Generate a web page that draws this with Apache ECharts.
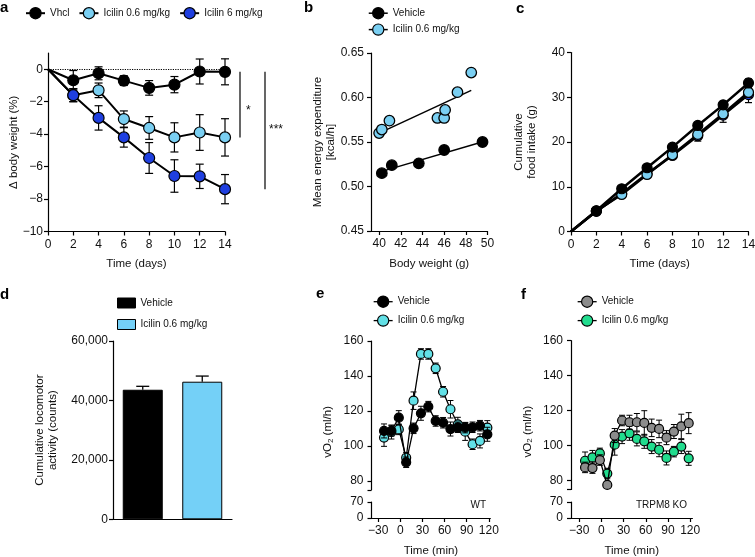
<!DOCTYPE html>
<html><head><meta charset="utf-8">
<script src="https://cdn.jsdelivr.net/npm/echarts@6/dist/echarts.min.js"></script>
<style>html,body{margin:0;padding:0;background:#fff}#c{width:755px;height:557px}</style>
</head><body><div id="c"></div>
<script>
// ---------- Panel a: body weight change ----------
const daysA = [0, 2, 4, 6, 8, 10, 12, 14];
const vhclA = [0, -0.68, -0.25, -0.7, -1.15, -0.95, -0.14, -0.16];
const vhclAErr = [0, 0.6, 0.4, 0.3, 0.45, 0.5, 0.77, 0.8];
const ici06A = [0, -1.6, -1.3, -3.07, -3.62, -4.2, -3.9, -4.2];
const ici06AErr = [0, 0.4, 0.45, 0.5, 0.7, 0.9, 1.1, 1.15];
const ici6A = [0, -1.6, -3.0, -4.2, -5.47, -6.58, -6.6, -7.39];
const ici6AErr = [0, 0.4, 0.75, 0.6, 0.95, 1.0, 0.75, 0.9];
const ticksAY = [-10, -8, -6, -4, -2, 0];
const sigLabels = ['*', '***'];

// ---------- Panel b: energy expenditure vs body weight ----------
const vehBW = [40.25, 41.17, 43.66, 46.0, 49.54];
const vehEE = [0.515, 0.524, 0.526, 0.541, 0.550];
const iciBW = [40.0, 40.25, 40.95, 45.38, 46.0, 46.09, 47.23, 48.5];
const iciEE = [0.560, 0.564, 0.574, 0.577, 0.577, 0.586, 0.606, 0.628];
const vehFitX = [40.25, 49.5], vehFitY = [0.517, 0.550];
const iciFitX = [40.0, 48.5], iciFitY = [0.560, 0.608];
const ticksBX = [40, 42, 44, 46, 48, 50];
const ticksBY = [0.45, 0.50, 0.55, 0.60, 0.65];

// ---------- Panel c: cumulative food intake ----------
const daysC = [0, 2, 4, 6, 8, 10, 12, 14];
const vehC = [0, 4.63, 9.55, 14.25, 18.86, 23.7, 28.3, 33.2];
const vehCErr = [0, 0.3, 0.4, 0.5, 0.6, 0.7, 0.8, 0.9];
const ici06C = [0, 4.6, 8.28, 12.75, 17.15, 21.7, 26.3, 31.1];
const ici06CErr = [0, 0.3, 0.5, 0.6, 0.7, 0.9, 1.0, 1.1];
const ici6C = [0, 4.5, 8.5, 12.9, 17.0, 21.4, 26.0, 30.6];
const ici6CErr = [0, 0.3, 0.5, 0.6, 0.8, 1.2, 1.6, 1.8];

// ---------- Panel d: locomotor activity ----------
const locoCats = ['Vehicle', 'Icilin 0.6 mg/kg'];
const locoVals = [43600, 46300];
const locoErr = [1150, 1900];

// ---------- Panel e: vO2 WT ----------
const timeE = [-22, -12, -2, 8, 18, 28, 38, 48, 58, 68, 78, 88, 98, 108, 118];
const vehE = [108.6, 108.6, 116.2, 90.7, 110.1, 118.7, 122.5, 114.3, 113.3, 109.7, 110.7, 110.5, 110.7, 111.6, 106.7];
const vehEErr = [4, 3, 4, 3, 3, 4, 3, 3, 3, 4, 3, 3, 3, 3, 4];
const iciE = [104.8, 108.0, 109.5, 93.3, 125.9, 152.6, 152.6, 144.4, 131.0, 121.0, 112.4, 108.2, 101.0, 102.9, 110.5];
const iciEErr = [5, 4, 3, 3, 5, 3, 3, 3, 3, 5, 4, 5, 3, 4, 4];

// ---------- Panel f: vO2 TRPM8 KO ----------
const timeF = [-22, -12, -2, 8, 18, 28, 38, 48, 58, 68, 78, 88, 98, 108, 118];
const vehF = [87.6, 87.2, 91.8, 77.6, 105.8, 114.4, 113.4, 113.4, 113.0, 110.2, 109.6, 104.6, 108.1, 111.0, 112.9];
const vehFErr = [3, 3, 3, 2, 4, 3, 4, 5, 7, 5, 5, 4, 4, 7, 6];
const iciF = [91.4, 93.3, 95.6, 84.1, 100.6, 105.2, 107.1, 103.9, 102.5, 99.5, 97.7, 93.0, 96.6, 99.5, 92.8];
const iciFErr = [5, 4, 3, 3, 6, 4, 4, 4, 4, 4, 4, 4, 3, 4, 4];

const ticksTime = [-30, 0, 30, 60, 90, 120];
const ticksVO2 = [80, 100, 120, 140, 160];
const ticksVO2Break = [75, 80, 100, 120, 140, 160];
const ticksLow = [0, 70];

// ---------- styling ----------
const FONT = "'Liberation Sans', Arial, Helvetica, sans-serif";
const TXT = '#111';
const LBLUE = '#7acff2', DBLUE = '#1f3fe0', CYAN = '#62e0e6', GREEN = '#22dc8e', GRAY = '#8c8c8c', BARBLUE = '#74d0f7';
const minus = v => String(v).replace('-', '\u2212');
const legendName = n => n.split('|')[0];

function axisBase(extra) {
  const base = {
    splitLine: { show: false },
    axisLine: { show: true, onZero: false, lineStyle: { color: '#000', width: 1.2 } },
    axisTick: { show: true, length: 4, lineStyle: { color: '#000', width: 1.2 } },
    axisLabel: { color: TXT, fontFamily: FONT, fontSize: 12 },
    nameLocation: 'middle',
    nameMoveOverlap: false,
    nameTextStyle: { color: TXT, fontFamily: FONT, fontSize: 11.5, lineHeight: 13 }
  };
  for (const k in extra) {
    if (typeof extra[k] === 'object' && !Array.isArray(extra[k]) && base[k]) base[k] = Object.assign({}, base[k], extra[k]);
    else base[k] = extra[k];
  }
  return base;
}

function errRender(cap, lw, upOnly) {
  return function (params, api) {
    const x = api.value(0), y = api.value(1), e = api.value(2);
    if (!e) return null;
    const c = api.coord([x, y]);
    const t = api.coord([x, y + e]);
    const st = { stroke: '#000', lineWidth: lw };
    const ch = [
      { type: 'line', shape: { x1: c[0], y1: c[1], x2: t[0], y2: t[1] }, style: st },
      { type: 'line', shape: { x1: t[0] - cap / 2, y1: t[1], x2: t[0] + cap / 2, y2: t[1] }, style: st }
    ];
    if (!upOnly) {
      const b = api.coord([x, y - e]);
      ch.push({ type: 'line', shape: { x1: c[0], y1: c[1], x2: b[0], y2: b[1] }, style: st });
      ch.push({ type: 'line', shape: { x1: b[0] - cap / 2, y1: b[1], x2: b[0] + cap / 2, y2: b[1] }, style: st });
    }
    return { type: 'group', children: ch };
  };
}
function errSeries(ai, xs, ys, es, cap, lw, z, upOnly) {
  return {
    type: 'custom', xAxisIndex: ai, yAxisIndex: ai, silent: true, clip: false, z: z,
    data: xs.map((x, i) => [x, ys[i], es[i]]),
    encode: { x: 0, y: 1 },
    renderItem: errRender(cap, lw, upOnly)
  };
}
function lineSeries(name, ai, xs, ys, fill, size, lw, z, originNoSymbol) {
  return {
    type: 'line', name: name, xAxisIndex: ai, yAxisIndex: ai, z: z,
    symbol: 'circle', symbolSize: size, showSymbol: true, showAllSymbol: true,
    data: xs.map((x, i) => (originNoSymbol && i === 0) ? { value: [x, ys[i]], symbol: 'none' } : [x, ys[i]]),
    lineStyle: { color: '#000', width: lw },
    itemStyle: { color: fill, borderColor: '#000', borderWidth: 1.2 },
    emphasis: { disabled: true }
  };
}

const grids = [
  { left: 48, top: 53, width: 177, height: 178.5 },       // a
  { left: 371, top: 53, width: 116.5, height: 178 },      // b
  { left: 571, top: 52.5, width: 177.5, height: 179 },    // c
  { left: 113, top: 341, width: 119, height: 178.3 },     // d
  { left: 371.5, top: 341, width: 118.8, height: 148.75 },// e upper
  { left: 371.5, top: 502, width: 118.8, height: 16 },    // e lower
  { left: 571, top: 340.7, width: 121.4, height: 148.75 },// f upper
  { left: 571, top: 502, width: 121.4, height: 16 }       // f lower
].map(g => Object.assign({ outerBoundsMode: 'none', containLabel: false }, g));

const xAxes = [
  axisBase({ type: 'value', gridIndex: 0, min: 0, max: 14, interval: 2, name: 'Time (days)', nameGap: 26, axisLabel: { margin: 7 } }),
  axisBase({ type: 'value', gridIndex: 1, min: 39.25, max: 50, name: 'Body weight (g)', nameGap: 26,
    axisTick: { customValues: ticksBX }, axisLabel: { customValues: ticksBX, margin: 7 } }),
  axisBase({ type: 'value', gridIndex: 2, min: 0, max: 14, interval: 2, name: 'Time (days)', nameGap: 26, axisLabel: { margin: 7 } }),
  axisBase({ type: 'category', gridIndex: 3, data: locoCats, axisTick: { show: false }, axisLabel: { show: false } }),
  axisBase({ type: 'value', gridIndex: 4, min: -39, max: 122, show: false }),
  axisBase({ type: 'value', gridIndex: 5, min: -39, max: 122, name: 'Time (min)', nameGap: 26,
    axisTick: { customValues: ticksTime }, axisLabel: { customValues: ticksTime, margin: 7, formatter: minus } }),
  axisBase({ type: 'value', gridIndex: 6, min: -41, max: 123, show: false }),
  axisBase({ type: 'value', gridIndex: 7, min: -41, max: 123, name: 'Time (min)', nameGap: 26,
    axisTick: { customValues: ticksTime }, axisLabel: { customValues: ticksTime, margin: 7, formatter: minus } })
];

const vo2Name = 'vO{sub|2} (ml/h)';
const vo2NameStyle = { color: TXT, fontFamily: FONT, fontSize: 11.5, lineHeight: 13, padding: [0, 33, 0, 0],
  rich: { sub: { fontSize: 8, verticalAlign: 'bottom', fontFamily: FONT, color: TXT, lineHeight: 13, padding: [6, 0, 0, 0] } } };

const yAxes = [
  axisBase({ type: 'value', gridIndex: 0, min: -10, max: 1, name: '\u0394 body weight (%)', nameGap: 28,
    axisTick: { customValues: ticksAY }, axisLabel: { customValues: ticksAY, margin: 5, formatter: minus } }),
  axisBase({ type: 'value', gridIndex: 1, min: 0.45, max: 0.65, name: 'Mean energy expenditure\n[kcal/h]', nameGap: 34,
    axisTick: { customValues: ticksBY }, axisLabel: { customValues: ticksBY, margin: 7, formatter: v => v.toFixed(2) } }),
  axisBase({ type: 'value', gridIndex: 2, min: 0, max: 40, interval: 10, name: 'Cumulative\nfood intake (g)', nameGap: 33, axisLabel: { margin: 6 } }),
  axisBase({ type: 'value', gridIndex: 3, min: 0, max: 60000, interval: 20000, name: 'Cumulative locomotor\nactivity (counts)', nameGap: 54,
    axisLabel: { margin: 5, formatter: v => v.toLocaleString('en-US') } }),
  axisBase({ type: 'value', gridIndex: 4, min: 75, max: 160, name: vo2Name, nameGap: 37, nameTextStyle: vo2NameStyle,
    axisTick: { customValues: ticksVO2Break }, axisLabel: { customValues: ticksVO2, margin: 8 } }),
  axisBase({ type: 'value', gridIndex: 5, min: 0, max: 70,
    axisTick: { customValues: ticksLow }, axisLabel: { customValues: ticksLow, margin: 8 } }),
  axisBase({ type: 'value', gridIndex: 6, min: 75, max: 160, name: vo2Name, nameGap: 37, nameTextStyle: vo2NameStyle,
    axisTick: { customValues: ticksVO2Break }, axisLabel: { customValues: ticksVO2, margin: 8 } }),
  axisBase({ type: 'value', gridIndex: 7, min: 0, max: 70,
    axisTick: { customValues: ticksLow }, axisLabel: { customValues: ticksLow, margin: 8 } })
];

const series = [];
// ---- a ----
series.push(errSeries(0, daysA, vhclA, vhclAErr, 8, 1.2, 2));
const vA = lineSeries('Vhcl', 0, daysA, vhclA, '#000', 11, 2, 3, true);
vA.markLine = { silent: true, symbol: 'none', label: { show: false }, lineStyle: { type: 'dotted', color: '#000', width: 1.2 }, data: [{ yAxis: 0 }] };
series.push(vA);
series.push(errSeries(0, daysA, ici06A, ici06AErr, 8, 1.2, 4));
series.push(lineSeries('Icilin 0.6 mg/kg', 0, daysA, ici06A, LBLUE, 11, 2, 5, true));
series.push(errSeries(0, daysA, ici6A, ici6AErr, 8, 1.2, 6));
series.push(lineSeries('Icilin 6 mg/kg', 0, daysA, ici6A, DBLUE, 11, 2, 7, true));
const lastA = daysA.length - 1;
series.push({
  type: 'custom', xAxisIndex: 0, yAxisIndex: 0, silent: true, clip: false, z: 10,
  data: [[daysA[lastA], vhclA[lastA], ici06A[lastA]], [daysA[lastA], vhclA[lastA], ici6A[lastA]]],
  encode: { x: 0, y: 1 },
  renderItem: function (params, api) {
    const x = api.value(0), y1 = api.value(1), y2 = api.value(2);
    const p1 = api.coord([x, y1]), p2 = api.coord([x, y2]);
    const i = params.dataIndex;
    const lx = p1[0] + (i === 0 ? 15 : 40);
    return { type: 'group', children: [
      { type: 'line', shape: { x1: lx, y1: p1[1], x2: lx, y2: p2[1] }, style: { stroke: '#000', lineWidth: 1.2 } },
      { type: 'text', style: { text: sigLabels[i], x: lx + (i === 0 ? 6 : 4), y: (p1[1] + p2[1]) / 2 + (i === 0 ? 6 : -1), align: 'left', verticalAlign: 'middle', fill: TXT, font: '12px ' + FONT } }
    ] };
  }
});
// ---- b ----
series.push({ type: 'line', name: 'Vehicle|b', xAxisIndex: 1, yAxisIndex: 1, z: 2, symbol: 'none',
  data: vehFitX.map((x, i) => [x, vehFitY[i]]), lineStyle: { color: '#000', width: 1.5 },
  itemStyle: { color: '#000', borderColor: '#000', borderWidth: 1.2 }, emphasis: { disabled: true } });
series.push({ type: 'line', name: 'Icilin 0.6 mg/kg|b', xAxisIndex: 1, yAxisIndex: 1, z: 2, symbol: 'none',
  data: iciFitX.map((x, i) => [x, iciFitY[i]]), lineStyle: { color: '#000', width: 1.5 },
  itemStyle: { color: LBLUE, borderColor: '#000', borderWidth: 1.2 }, emphasis: { disabled: true } });
series.push({ type: 'scatter', name: 'Icilin 0.6 mg/kg|b', xAxisIndex: 1, yAxisIndex: 1, z: 3, symbolSize: 10.5,
  data: iciBW.map((x, i) => [x, iciEE[i]]), itemStyle: { color: LBLUE, borderColor: '#000', borderWidth: 1.3, opacity: 1 }, emphasis: { disabled: true } });
series.push({ type: 'scatter', name: 'Vehicle|b', xAxisIndex: 1, yAxisIndex: 1, z: 4, symbolSize: 10.5,
  data: vehBW.map((x, i) => [x, vehEE[i]]), itemStyle: { color: '#000', borderColor: '#000', borderWidth: 1.3, opacity: 1 }, emphasis: { disabled: true } });
// ---- c ----
series.push(errSeries(2, daysC, ici6C, ici6CErr, 7, 1.2, 2));
series.push(lineSeries('Icilin 6 mg/kg', 2, daysC, ici6C, DBLUE, 10, 2.5, 3, true));
series.push(errSeries(2, daysC, ici06C, ici06CErr, 7, 1.2, 4));
series.push(lineSeries('Icilin 0.6 mg/kg', 2, daysC, ici06C, LBLUE, 10, 2.5, 5, true));
series.push(errSeries(2, daysC, vehC, vehCErr, 7, 1.2, 6));
series.push(lineSeries('Vhcl', 2, daysC, vehC, '#000', 10, 2.5, 7, true));
// ---- d ----
series.push({ type: 'bar', name: 'Vehicle|d', xAxisIndex: 3, yAxisIndex: 3, z: 2, barWidth: 40, barGap: '-100%',
  data: [locoVals[0], '-'], itemStyle: { color: '#000', borderColor: '#000', borderWidth: 1 }, emphasis: { disabled: true } });
series.push({ type: 'bar', name: 'Icilin 0.6 mg/kg|d', xAxisIndex: 3, yAxisIndex: 3, z: 2, barWidth: 40, barGap: '-100%',
  data: ['-', locoVals[1]], itemStyle: { color: BARBLUE, borderColor: '#000', borderWidth: 1 }, emphasis: { disabled: true } });
series.push(errSeries(3, [0, 1], locoVals, locoErr, 13, 1.3, 1, true));
// ---- e ----
series.push(errSeries(4, timeE, iciE, iciEErr, 6, 1, 2));
series.push(lineSeries('Icilin 0.6 mg/kg|e', 4, timeE, iciE, CYAN, 9, 1.3, 3, false));
series.push(errSeries(4, timeE, vehE, vehEErr, 6, 1, 4));
series.push(lineSeries('Vehicle|e', 4, timeE, vehE, '#000', 9, 1.3, 5, false));
// ---- f ----
series.push(errSeries(6, timeF, iciF, iciFErr, 6, 1, 2));
series.push(lineSeries('Icilin 0.6 mg/kg|f', 6, timeF, iciF, GREEN, 9, 1.3, 3, false));
series.push(errSeries(6, timeF, vehF, vehFErr, 6, 1, 4));
series.push(lineSeries('Vehicle|f', 6, timeF, vehF, GRAY, 9, 1.3, 5, false));

const legendText = { color: TXT, fontFamily: FONT, fontSize: 10 };
function lineLegend(names, left, top, orient, gap, lw) {
  return { data: names, left: left, top: top, orient: orient, itemGap: gap, itemWidth: 19, itemHeight: 14,
    padding: 0, selectedMode: false, formatter: legendName, textStyle: legendText,
    lineStyle: { color: '#000', width: lw }, itemStyle: { borderColor: '#000', borderWidth: 1.2 } };
}
const legends = [
  lineLegend(['Vhcl', 'Icilin 0.6 mg/kg', 'Icilin 6 mg/kg'], 25, 7, 'horizontal', 9, 2),
  lineLegend(['Vehicle|b', 'Icilin 0.6 mg/kg|b'], 368, 7, 'vertical', 4, 1.5),
  { data: ['Vehicle|d', 'Icilin 0.6 mg/kg|d'], left: 117, top: 297.5, orient: 'vertical', itemGap: 10.5, itemWidth: 18, itemHeight: 10,
    padding: 0, selectedMode: false, formatter: legendName, textStyle: legendText, icon: 'rect',
    itemStyle: { borderColor: '#000', borderWidth: 1 } },
  lineLegend(['Vehicle|e', 'Icilin 0.6 mg/kg|e'], 373, 295.5, 'vertical', 6.5, 1.3),
  lineLegend(['Vehicle|f', 'Icilin 0.6 mg/kg|f'], 577, 295.5, 'vertical', 6.5, 1.3)
];

const letterStyle = { fontSize: 15, fontWeight: 'bold', color: '#000', fontFamily: FONT };
const titles = [['a', 0, 0], ['b', 304, 0], ['c', 516, 1.5], ['d', 0, 287], ['e', 316, 286.5], ['f', 521, 287]]
  .map(t => ({ text: t[0], left: t[1], top: t[2], padding: 0, textStyle: letterStyle }));

const chart = echarts.init(document.getElementById('c'), null, { renderer: 'canvas' });
chart.setOption({
  animation: false,
  backgroundColor: '#fff',
  title: titles,
  legend: legends,
  grid: grids,
  xAxis: xAxes,
  yAxis: yAxes,
  series: series,
  graphic: [
    { type: 'text', right: 755 - 486, top: 500, style: { text: 'WT', fill: TXT, font: '10px ' + FONT } },
    { type: 'text', right: 755 - 687, top: 500, style: { text: 'TRPM8 KO', fill: TXT, font: '10px ' + FONT } }
  ]
});
</script></body></html>
